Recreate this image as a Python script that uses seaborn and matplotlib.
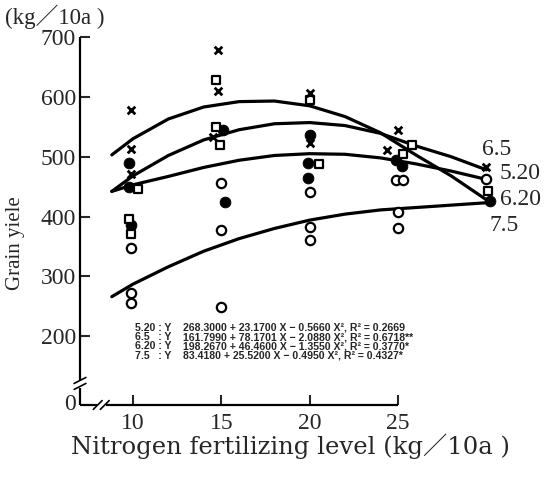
import numpy as np
import pandas as pd
import matplotlib
matplotlib.use('Agg')
import matplotlib.pyplot as plt
import seaborn as sns

# --- data ---
# regression curves, sampled along the nitrogen axis
curve_x = [8.8, 10, 12, 14, 16, 18, 20, 22, 24, 26, 28, 30]
curve_620 = [503, 530, 563, 583, 592, 593, 585, 567, 540, 503, 468, 428]
curve_65 = [442, 468, 502, 528, 545, 555, 557, 552, 539, 518, 500, 478]
curve_520 = [442, 453, 467, 482, 494, 502, 505, 504, 498, 488, 476, 462]
curve_75 = [266, 287, 316, 342, 363, 380, 394, 404, 411, 415, 419, 423]

# observed points, one list per marker
cross_x = [9.9, 9.9, 9.9, 14.8, 14.8, 14.5, 20.0, 20.0, 25.0, 24.4, 30.0]
cross_y = [578, 513, 471, 678, 610, 533, 606, 523, 544, 511, 483]
square_x = [10.3, 9.8, 9.9, 14.7, 14.7, 14.9, 20.0, 20.5, 25.8, 25.3, 30.1]
square_y = [446, 396, 371, 628, 549, 519, 595, 488, 520, 505, 443]
filled_x = [9.8, 9.8, 9.9, 15.1, 15.2, 20.0, 19.9, 19.9, 24.9, 25.2, 30.2]
filled_y = [489, 450, 386, 544, 424, 536, 489, 464, 494, 485, 426]
open_x = [9.9, 9.9, 9.9, 15.0, 15.0, 15.0, 20.0, 20.0, 20.0, 24.9, 25.3, 25.0, 25.0, 30.0]
open_y = [348, 273, 255, 456, 378, 249, 441, 383, 361, 461, 461, 408, 381, 463]

curve_labels = ['6.5', '5.20', '6.20', '7.5']
label_x = [29.75, 30.75, 30.75, 30.2]
label_y = [512, 472, 428, 385]

equations = [
    ('5.20 : Y', '268.3000 + 23.1700 X \u2212 0.5660 X\u00b2, R\u00b2 = 0.2669'),
    ('6.5   : Y', '161.7990 + 78.1701 X \u2212 2.0880 X\u00b2, R\u00b2 = 0.6718**'),
    ('6.20 : Y', '198.2670 + 46.4600 X \u2212 1.3550 X\u00b2, R\u00b2 = 0.3770*'),
    ('7.5   : Y', '83.4180 + 25.5200 X \u2212 0.4950 X\u00b2, R\u00b2 = 0.4327*'),
]

y_ticks = [200, 300, 400, 500, 600, 700]
x_ticks = [10, 15, 20, 25]

sns.set_style('white')
plt.rcParams['font.family'] = ['Liberation Serif', 'Noto Sans CJK JP']

n = len(curve_x)
curves = pd.DataFrame({
    'x': curve_x * 4,
    'y': curve_620 + curve_65 + curve_520 + curve_75,
    'curve': ['6.20'] * n + ['6.5'] * n + ['5.20'] * n + ['7.5'] * n,
})

fig = plt.figure(figsize=(5.44, 4.79), dpi=100)
ax = fig.add_axes([80 / 544, 1 - 405 / 479, 420 / 544, 368 / 479])

sns.lineplot(data=curves, x='x', y='y', units='curve', estimator=None,
             color='black', linewidth=2.3, ax=ax, zorder=2)

sns.scatterplot(x=open_x, y=open_y, marker='o', s=45, facecolor='white',
                edgecolor='black', linewidth=1.6, ax=ax, zorder=3)
sns.scatterplot(x=filled_x, y=filled_y, marker='o', s=60, color='black',
                edgecolor='black', ax=ax, zorder=4)
sns.scatterplot(x=square_x, y=square_y, marker='s', s=40, facecolor='white',
                edgecolor='black', linewidth=1.6, ax=ax, zorder=4)
sns.scatterplot(x=cross_x, y=cross_y, marker='x', s=30, color='black',
                linewidth=2.0, ax=ax, zorder=5)

ax.set_xlim(7.0, 30.77)
ax.set_ylim(85, 700)
for s in ax.spines.values():
    s.set_visible(False)

# broken axes drawn by hand
kw = dict(color='black', linewidth=1.6, clip_on=False, solid_capstyle='butt')
yt = ax.get_yaxis_transform()
ax.plot([0, 0], [700, 126], transform=yt, **kw)
ax.plot([0, 0], [114, 85], transform=yt, **kw)
for v in (126, 116):
    ax.plot([-0.014, 0.014], [v - 5, v + 5], transform=yt, color='black', linewidth=1.2, clip_on=False)
xt = ax.get_xaxis_transform()
ax.plot([7.0, 7.95], [0, 0], transform=xt, **kw)
ax.plot([8.45, 25], [0, 0], transform=xt, **kw)
for v in (8.0, 8.4):
    ax.plot([v - 0.25, v + 0.25], [-0.012, 0.012], transform=xt, color='black', linewidth=1.2, clip_on=False)

ax.set_xticks(x_ticks)
ax.set_yticks(y_ticks)
ax.tick_params(direction='in', length=7, width=1.5, labelsize=17, pad=3,
               bottom=True, left=True, top=False, right=False)
ax.tick_params(axis='x', pad=6)
ax.text(-0.01, 85, '0', transform=yt, ha='right', va='center', fontsize=17)

ax.set_xlabel('Nitrogen fertilizing level (kg\uff0f10a )', fontsize=17.5,
              family=['DejaVu Serif', 'Noto Sans CJK JP'], labelpad=-1)
ax.set_ylabel('Grain yiele', fontsize=15)
ax.yaxis.set_label_coords(-0.13, 0.44)
fig.text(5 / 544, 1 - 17 / 479, '(kg\uff0f10a )', fontsize=16.5, ha='left', va='center')

for lab, lx, v in zip(curve_labels, label_x, label_y):
    ax.text(lx, v, lab, fontsize=17, ha='left', va='center', clip_on=False)

for i, (pre, eq) in enumerate(equations):
    yy = 1 - (328 + 9.2 * i) / 479
    fig.text(135 / 544, yy, pre, fontsize=7.6, family='Liberation Sans', weight='bold', va='center')
    fig.text(183 / 544, yy, eq, fontsize=7.6, family='Liberation Sans', weight='bold', va='center')

fig.savefig('out.png', dpi=100)
